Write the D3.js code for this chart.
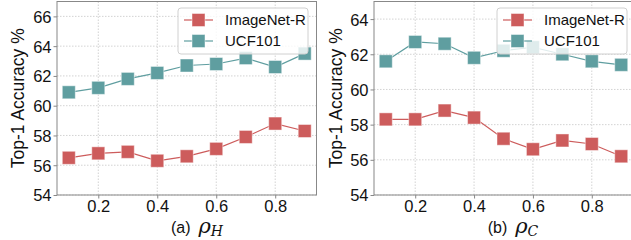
<!DOCTYPE html>
<html>
<head>
<meta charset="utf-8">
<script src="https://cdn.jsdelivr.net/npm/d3@7"></script>
<style>
  body { margin: 0; background: #fff; }
  svg { display: block; font-family: "Liberation Sans", Arial, sans-serif; }
</style>
</head>
<body>
<svg id="fig" width="631" height="240"></svg>
<script>
// x 값 (두 패널 공통)
const ratios = [0.1, 0.2, 0.3, 0.4, 0.5, 0.6, 0.7, 0.8, 0.9];
const xTicks = [0.2, 0.4, 0.6, 0.8];

// (a) rho_H
const imagenetH = [56.5, 56.8, 56.9, 56.3, 56.6, 57.1, 57.9, 58.8, 58.3];
const ucfH = [60.9, 61.2, 61.8, 62.2, 62.7, 62.8, 63.2, 62.6, 63.5];
const yTicksH = [54, 56, 58, 60, 62, 64, 66];

// (b) rho_C
const imagenetC = [58.3, 58.3, 58.8, 58.4, 57.2, 56.6, 57.1, 56.9, 56.2];
const ucfC = [61.6, 62.7, 62.6, 61.8, 62.2, 62.4, 62.0, 61.6, 61.4];
const yTicksC = [54, 56, 58, 60, 62, 64];

const seriesNames = ["ImageNet-R", "UCF101"];
const colors = ["#cd5c5c", "#5f9ea0"];

const svg = d3.select("#fig");

// 패널 하나 그리기
function drawPanel(opt) {
    const x = d3.scaleLinear().domain([0.06, 0.94]).range([opt.left, opt.right]);
    const y = d3.scaleLinear().domain(opt.yDomain).range([195, 1.5]);
    const g = svg.append("g");

    // 그리드
    g.selectAll(".gx").data(xTicks).enter().append("line")
        .attr("x1", d => x(d)).attr("x2", d => x(d))
        .attr("y1", y.range()[0]).attr("y2", y.range()[1])
        .attr("stroke", "#c8c8c8").attr("stroke-width", 0.8)
        .attr("stroke-dasharray", "1.5,1.5");
    g.selectAll(".gy").data(opt.yTicks).enter().append("line")
        .attr("x1", opt.left).attr("x2", opt.right)
        .attr("y1", d => y(d)).attr("y2", d => y(d))
        .attr("stroke", "#c8c8c8").attr("stroke-width", 0.8)
        .attr("stroke-dasharray", "1.5,1.5");

    // 축
    const ax = g.append("g")
        .attr("transform", `translate(0,${y.range()[0]})`)
        .call(d3.axisBottom(x).tickValues(xTicks).tickFormat(d3.format(".1f")).tickSize(3.5).tickPadding(2));
    const ay = g.append("g")
        .attr("transform", `translate(${opt.left},0)`)
        .call(d3.axisLeft(y).tickValues(opt.yTicks).tickSize(3.5).tickPadding(2));
    [ax, ay].forEach(a => {
        a.select(".domain").remove();
        a.selectAll("line").attr("stroke", "#888");
        a.selectAll("text").style("font-size", "16.5px").attr("fill", "#111");
    });
    ay.selectAll("text").attr("dy", "0.36em");

    // 테두리
    g.append("rect")
        .attr("x", opt.left).attr("y", y.range()[1])
        .attr("width", opt.right - opt.left).attr("height", y.range()[0] - y.range()[1])
        .attr("fill", "none").attr("stroke", "#888").attr("stroke-width", 1);

    // 선 + 마커
    const line = d3.line().x((d, i) => x(ratios[i])).y(d => y(d));
    opt.series.forEach((s, k) => {
        g.append("path").datum(s)
            .attr("fill", "none").attr("stroke", colors[k]).attr("stroke-width", 1.2)
            .attr("d", line);
        g.selectAll(".m" + k).data(s).enter().append("rect")
            .attr("x", (d, i) => x(ratios[i]) - 6.5)
            .attr("y", d => y(d) - 6.5)
            .attr("width", 13).attr("height", 13)
            .attr("fill", colors[k])
            .attr("stroke", "#fff").attr("stroke-opacity", 0.45).attr("stroke-width", 1);
    });

    // 범례
    const lg = g.append("g").attr("transform", `translate(${opt.legendX},8)`);
    lg.append("rect")
        .attr("width", opt.legendW).attr("height", 46).attr("rx", 3)
        .attr("fill", "#fff").attr("fill-opacity", 0.8)
        .attr("stroke", "#d0d0d0").attr("stroke-width", 1);
    seriesNames.forEach((name, k) => {
        const cy = 12 + k * 21;
        lg.append("line").attr("x1", 6).attr("x2", 35).attr("y1", cy).attr("y2", cy)
            .attr("stroke", colors[k]).attr("stroke-width", 1.2);
        lg.append("rect").attr("x", 20.5 - 6.5).attr("y", cy - 6.5).attr("width", 13).attr("height", 13)
            .attr("fill", colors[k]).attr("stroke", "#fff").attr("stroke-opacity", 0.45);
        lg.append("text").attr("x", 47).attr("y", cy).attr("dy", "0.36em")
            .style("font-size", "15px").attr("fill", "#111").text(name);
    });

    // y 라벨
    svg.append("text")
        .attr("transform", `translate(${opt.ylabelX},${(y.range()[0] + y.range()[1]) / 2}) rotate(-90)`)
        .attr("text-anchor", "middle").attr("dy", "0.36em")
        .style("font-size", "17.5px").attr("fill", "#111")
        .text("Top-1 Accuracy %");

    // x 라벨
    const xl = svg.append("text")
        .attr("x", opt.xlabelX).attr("y", 233)
        .attr("text-anchor", "middle")
        .style("font-size", "16px").attr("fill", "#111");
    xl.append("tspan").text(opt.tag + "\u2002");
    xl.append("tspan").style("font-family", "DejaVu Serif").style("font-style", "italic")
        .style("font-size", "21px").text("ρ");
    xl.append("tspan").attr("dy", 3).style("font-family", "DejaVu Serif").style("font-style", "italic")
        .style("font-size", "14px").text(opt.sub);
}

drawPanel({
    left: 57, right: 316.5, yDomain: [54, 67], yTicks: yTicksH,
    series: [imagenetH, ucfH], legendX: 178, legendW: 130,
    ylabelX: 18, xlabelX: 197, tag: "(a)", sub: "H"
});
drawPanel({
    left: 374, right: 633, yDomain: [54, 65], yTicks: yTicksC,
    series: [imagenetC, ucfC], legendX: 497, legendW: 130,
    ylabelX: 336, xlabelX: 513, tag: "(b)", sub: "C"
});
</script>
</body>
</html>
